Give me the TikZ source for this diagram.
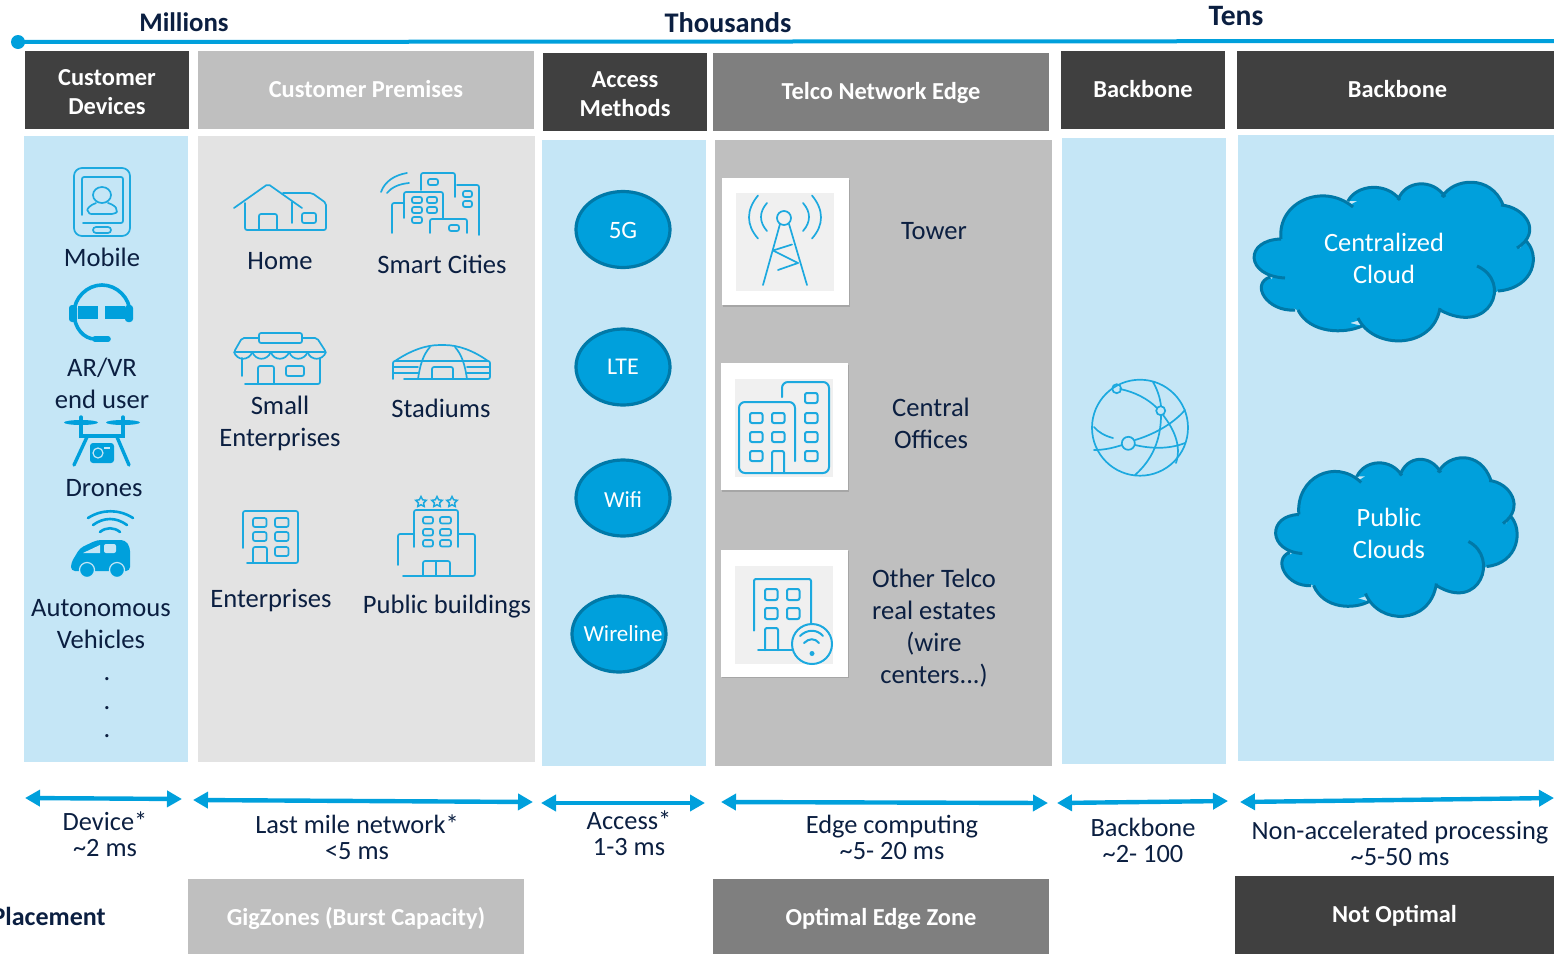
\documentclass[tikz,border=0pt]{standalone}
\usepackage{fontspec}
\setmainfont{Carlito}
\usetikzlibrary{arrows.meta,shapes.geometric}

\definecolor{barblue}{HTML}{00A0DC}
\definecolor{edgeblue}{HTML}{0079A8}
\definecolor{iconblue}{HTML}{1CA9DF}
\definecolor{panelblue}{HTML}{C5E6F6}
\definecolor{panelgrey}{HTML}{E3E3E3}
\definecolor{darkgrey}{HTML}{404040}
\definecolor{midgrey}{HTML}{7F7F7F}
\definecolor{lightgrey}{HTML}{BFBFBF}
\definecolor{inknavy}{HTML}{0B1F41}

\newcommand\midtext[2][3.9pt]{\raisebox{-#1}[0pt][0pt]{\makebox[0pt]{#2}}}

\tikzset{
	hdrbox/.style={rectangle,inner sep=0,text=white,align=center,font=\fontsize{12.2}{14.5}\selectfont\bfseries,minimum width=82pt,minimum height=39pt},
	panel/.style={rectangle,inner sep=0,minimum height=313pt},
	lbl/.style={inner sep=0,text=inknavy,align=center,font=\fontsize{13.3}{16}\selectfont},
	lat/.style={inner sep=0,text=inknavy,align=center,font=\fontsize{13.2}{13}\selectfont},
	scalelbl/.style={inner sep=0,text=inknavy,font=\fontsize{13.4}{15}\selectfont\bfseries},
	tech/.style={ellipse,draw=edgeblue,line width=1.6pt,fill=barblue,inner sep=0,text=white,minimum width=47pt,minimum height=38pt,font=\fontsize{12}{14}\selectfont},
	whitelbl/.style={inner sep=0,text=white,align=center,font=\fontsize{13.2}{16}\selectfont},
	tile/.style={rectangle,inner sep=0,fill=white,minimum width=63.5pt,minimum height=63.5pt},
	tileshade/.style={rectangle,inner sep=0,fill=gray!70,minimum width=63.5pt,minimum height=63.5pt},
	tileback/.style={rectangle,inner sep=0,fill=black!6,minimum width=49pt,minimum height=49pt},
	span/.style={barblue,line width=2.2pt,{Triangle[length=7.5pt,width=8pt]}-{Triangle[length=7.5pt,width=8pt]}},
	ico/.style={iconblue,line width=0.85pt,rounded corners=1pt,line cap=round},
	hotel/.style={star,star points=5,star point ratio=2,draw=iconblue,line width=0.75pt,inner sep=0,minimum size=5.5pt},
	pics/cloudicon/.style={code={
		\fill[barblue] (-138,-4) -- (-114,-23) -- (-72,-62) -- (-45,-57) -- (-18,-72) -- (4,-62) -- (30,-76) -- (48,-65) -- (77,-76) -- (107,-57) -- (130,-32) -- (124,-16) -- (134,-2) -- (103,29) -- (65,52) -- (45,47) -- (3,76) -- (-35,58) -- (-62,66) -- (-98,48) -- (-130,30) -- (-122,15) -- cycle;
		\filldraw[fill=barblue,draw=edgeblue,line width=1.5pt]
			(-110,16) .. controls (-150,14) and (-151,-22) .. (-114,-23)
			(-114,-23) .. controls (-118,-60) and (-72,-80) .. (-42,-55)
			(-47,-61) .. controls (-38,-78) and (-8,-80) .. (5,-62)
			(3,-62) .. controls (10,-82) and (38,-84) .. (50,-65)
			(47,-65) .. controls (58,-84) and (96,-88) .. (108,-57)
			(106,-57) .. controls (130,-55) and (148,-30) .. (122,-14)
			(130,-22) .. controls (146,-8) and (140,26) .. (103,29)
			(82,4) .. controls (118,20) and (95,75) .. (45,48)
			(45,46) .. controls (38,88) and (-22,88) .. (-37,56)
			(-33,64) .. controls (-50,72) and (-85,72) .. (-97,48)
			(-100,48) .. controls (-128,50) and (-145,22) .. (-125,15);
	}}
}

\begin{document}
\begin{tikzpicture}[x=0.5pt,y=-0.5pt]
	\clip (0,0) rectangle (1554,954);

	% scale line on top
	\path (18,42) coordinate (scale_left);
	\path (1554,41) coordinate (scale_right);
	\draw[barblue,line width=2pt] (scale_left) -- (scale_right);
	\fill[barblue] (scale_left) circle (7);
	\path (184,22) node(millions) [scalelbl] {Millions};
	\path (728,23) node(thousands) [scalelbl,font=\fontsize{14.2}{15}\selectfont\bfseries] {Thousands};
	\path (1236,16) node(tens) [scalelbl,font=\fontsize{14.8}{15}\selectfont\bfseries] {Tens};

	% headers
	\path (107,90) node(hdr_devices) [hdrbox,fill=darkgrey] {\rule{0pt}{10pt}Customer\\Devices};
	\path (366,90) node(hdr_premises) [hdrbox,fill=lightgrey,minimum width=168pt] {\midtext{Customer Premises}};
	\path (625,92) node(hdr_access) [hdrbox,fill=darkgrey] {\rule{0pt}{10pt}Access\\Methods};
	\path (881,92) node(hdr_edge) [hdrbox,fill=midgrey,minimum width=168pt] {\midtext{Telco Network Edge}};
	\path (1143,90) node(hdr_backbone) [hdrbox,fill=darkgrey] {\midtext{Backbone}};
	\path (1397.5,90) node(hdr_core) [hdrbox,fill=darkgrey,minimum width=160.5pt] {\midtext{Backbone}};

	% panels
	\path (106,449) node(pan_devices) [panel,fill=panelblue,minimum width=82pt] {};
	\path (366.5,449) node(pan_premises) [panel,fill=panelgrey,minimum width=168.5pt] {};
	\path (624,452.5) node(pan_access) [panel,fill=panelblue,minimum width=82pt] {};
	\path (883.5,452.5) node(pan_edge) [panel,fill=lightgrey,minimum width=168.5pt] {};
	\path (1144,451) node(pan_backbone) [panel,fill=panelblue,minimum width=82pt] {};
	\path (1396,448) node(pan_core) [panel,fill=panelblue,minimum width=158pt] {};

	% devices
	\path (102,257) node(mobile) [lbl] {Mobile};
	\path (102,383) node(arvr) [lbl] {AR/VR\\end user};
	\path (104,488) node(drones) [lbl] {Drones};
	\path (101,624) node(vehicles) [lbl] {Autonomous\\Vehicles};
	\path (107,679) node(dot_a) [lbl] {.};
	\path (107,708) node(dot_b) [lbl] {.};
	\path (107,736) node(dot_c) [lbl] {.};

	% mobile icon
	\draw[ico,rounded corners=4pt] (74,168) rectangle (130,236);
	\draw[ico] (82,215) -- (82,177) -- (123,177) -- (123,223) -- (83,223);
	\draw[ico,rounded corners=1.5pt] (93,227) rectangle (111,233);
	\draw[ico] (96,203) .. controls (90,205) and (87,209) .. (88,212) .. controls (90,214) and (92,214) .. (95,214) -- (110,214) .. controls (115,214) and (117,212) .. (116,210) .. controls (116,207) and (112,204) .. (108,203);
	\draw[ico] (102,195) ellipse (9 and 8);
	% headset icon
	\draw[barblue,line width=1.8pt,line cap=round] (74,313) .. controls (74,298) and (87,285) .. (102,285) .. controls (117,285) and (130,298) .. (130,313);
	\draw[barblue,line width=1.8pt] (74,313) .. controls (74,328) and (84,339) .. (95,339);
	\draw[barblue,line width=2.8pt,line cap=round] (95,339) -- (108,339);
	\fill[barblue,rounded corners=1.5pt] (69,305) rectangle (77,322);
	\fill[barblue,rounded corners=1.5pt] (125,305) rectangle (133,322);
	\fill[barblue] (78,306) rectangle (98,319);
	\fill[barblue] (105,306) rectangle (125,319);
	% drone icon
	\fill[barblue] (81,422.5) ellipse (17 and 2.5);
	\fill[barblue] (123,422.5) ellipse (17 and 2.5);
	\draw[barblue,line width=1.7pt,line cap=round] (81,417) -- (81,436) -- (123,436) -- (123,417);
	\draw[barblue,line width=1.7pt,line cap=round] (87,437) -- (74,465);
	\draw[barblue,line width=1.7pt,line cap=round] (117,437) -- (129,465);
	\fill[barblue,rounded corners=1.5pt] (90,443) rectangle (114,463);
	\draw[panelblue,line width=0.6pt] (98,453) circle (5);
	\draw[panelblue,line width=0.6pt] (104,448) -- (110,448);
	% car icon
	\draw[barblue,line width=1.3pt,line cap=round] (88,518) .. controls (102,509) and (119,509) .. (133,518);
	\draw[barblue,line width=1.3pt,line cap=round] (93,525) .. controls (104,517) and (116,517) .. (127,525);
	\draw[barblue,line width=1.3pt,line cap=round] (100,532) .. controls (106,527) and (114,527) .. (120,532);
	\fill[barblue,rounded corners=2pt] (71,571) -- (71,563) -- (80,548) -- (97,540) -- (125,540) -- (130,547) -- (130,571) -- cycle;
	\fill[panelblue] (83,553) -- (100,553) -- (100,545) -- cycle;
	\fill[panelblue,rounded corners=1pt] (104,544) rectangle (116,553);
	\filldraw[fill=barblue,draw=panelblue,line width=0.6pt] (87,570) circle (7.5);
	\filldraw[fill=barblue,draw=panelblue,line width=0.6pt] (117,570) circle (7.5);

	% premises
	\path (280,261) node(home) [lbl] {Home};
	\path (442,264) node(cities) [lbl] {Smart Cities};
	\path (280,423) node(small_ent) [lbl] {Small\\Enterprises};
	\path (441,408) node(stadiums) [lbl] {Stadiums};
	\path (271,600) node(enterprises) [lbl] {Enterprises};
	\path (447,607) node(public) [lbl] {Public buildings};

	% home icon
	\draw[ico] (234,208) -- (268,184) -- (302,208);
	\draw[ico] (245,203) -- (245,230) -- (326,230) -- (326,203) -- (312,193) -- (283,193);
	\draw[ico] (259,230) -- (259,214) -- (277,214) -- (277,230);
	\draw[ico] (292,202) -- (292,223);
	\draw[ico] (302,213) rectangle (316,223);
	% city icon
	\draw[ico] (381,192) .. controls (385,181) and (395,175) .. (407,173);
	\draw[ico] (387,193) .. controls (391,188) and (398,184) .. (409,183);
	\draw[ico] (421,190) -- (421,173) -- (455,173) -- (455,197);
	\draw[ico] (428,179) rectangle (438,185);
	\draw[ico] (457,185) -- (479,185) -- (479,235);
	\foreach \y in {191,201} \draw[ico] (463,\y) rectangle (472,\y+6);
	\draw[ico] (392,233) -- (392,203) -- (404,203);
	\draw[ico] (404,218) -- (404,192) -- (443,192) -- (443,218);
	\foreach \x/\y in {412/197,427/197,412/207,427/207,412/217} \draw[ico] (\x,\y) rectangle (\x+10,\y+6);
	\draw[ico] (430,233) -- (430,219) -- (467,219) -- (467,233);
	\draw[ico] (449,225) rectangle (459,231);
	% shop icon
	\draw[ico] (259,333) rectangle (302,343);
	\draw[ico] (259,338) -- (242,338) -- (234,352) -- (326,352) -- (317,338) -- (302,338);
	\foreach \x in {234,252.4,270.8,289.2,307.6} \draw[ico] (\x,352) .. controls (\x+3,361) and (\x+15,361) .. (\x+18.4,352);
	\draw[ico] (242,358) -- (242,376);
	\draw[ico] (320,358) -- (320,384) -- (245,384);
	\draw[ico] (258,384) -- (258,366) -- (274,366) -- (274,384);
	\draw[ico] (286,366) rectangle (304,376);
	% stadium icon
	\draw[ico] (395,361) .. controls (410,351) and (425,345) .. (442,345) .. controls (459,345) and (474,351) .. (488,361);
	\draw[ico] (393,379) -- (393,361) -- (490,361) -- (490,379) -- (404,379);
	\draw[ico] (393,367) -- (418,367);
	\draw[ico] (467,367) -- (490,367);
	\draw[ico] (393,373) -- (418,373);
	\draw[ico] (467,373) -- (490,373);
	\draw[ico] (418,379) .. controls (420,365) and (423,355) .. (430,347);
	\draw[ico] (467,379) .. controls (465,365) and (462,355) .. (455,347);
	\draw[ico] (432,379) -- (432,367) -- (453,367) -- (453,379);
	% enterprise icon
	\draw[ico] (243,548) -- (243,511) -- (298,511) -- (298,563) -- (247,563);
	\foreach \x/\y in {253/518,275/518,253/532,275/532,275/547} \draw[ico] (\x,\y) rectangle (\x+13.5,\y+9);
	\draw[ico] (253,563) -- (253,547) -- (267,547) -- (267,563);
	% public building icon
	\foreach \x in {421,437,452} \node[hotel] at (\x,502) {};
	\draw[ico] (414,547) -- (414,510) -- (458,510) -- (458,547);
	\foreach \y in {517,529,540} {
		\draw[ico] (423,\y) rectangle (433,\y+6.5);
		\draw[ico] (440,\y) rectangle (451,\y+6.5);
	}
	\draw[ico] (398,565) -- (398,534) -- (414,534);
	\draw[ico] (458,534) -- (475,534) -- (475,576) -- (403,576);
	\draw[ico] (423,576) -- (423,561) -- (450,561) -- (450,576);
	\draw[ico] (436,561) -- (436,576);

	% access methods
	\path (623,229.5) node(tech_5g) [tech,font=\fontsize{12.5}{14}\selectfont] {\midtext[4.6pt]{5G}};
	\path (623,367) node(tech_lte) [tech] {\midtext{LTE}};
	\path (623,498) node(tech_wifi) [tech,font=\fontsize{11.5}{14}\selectfont] {\midtext[4.6pt]{Wifi}};
	\path (619,634) node(tech_wire) [tech,font=\fontsize{11.5}{14}\selectfont] {\midtext{\hspace{4pt}Wireline}};

	% telco edge
	\path (786,243) node(shade_tower) [tileshade] {};
	\path (785,241.5) node(tile_tower) [tile] {};
	\path (785,242) node(back_tower) [tileback] {};
	\path (785,428) node(shade_office) [tileshade] {};
	\path (784,426.5) node(tile_office) [tile] {};
	\path (783.5,427.5) node(back_office) [tileback] {};
	\path (785,614.5) node(shade_real) [tileshade] {};
	\path (784,613) node(tile_real) [tile] {};
	\path (783.5,614.5) node(back_real) [tileback] {};
	\path (934,231) node(tower) [lbl] {Tower};
	\path (931,423.5) node(offices) [lbl] {Central\\Offices};
	\path (934,628) node(estates) [lbl] {Other Telco\\real estates\\(wire\\centers...)};

	% tower icon
	\draw[ico] (758,195.5) .. controls (746,210) and (746,225) .. (758,238.5);
	\draw[ico] (767,203) .. controls (759,212) and (759,222) .. (767,231);
	\draw[ico] (812,195.5) .. controls (824,210) and (824,225) .. (812,238.5);
	\draw[ico] (803,203) .. controls (811,212) and (811,222) .. (803,231);
	\draw[ico] (784,218) circle (7);
	\draw[ico] (780,224) -- (763,285);
	\draw[ico] (789,224) -- (807,285);
	\draw[ico] (773,250.5) -- (792,244.5);
	\draw[ico] (773,250.5) -- (798,263);
	\draw[ico] (778,270) -- (798,263);
	% office icon
	\draw[ico,line width=1pt,rounded corners=3pt] (782,397) -- (782,382) -- (829,382) -- (829,473) -- (739,473) -- (739,402) -- (795,402) -- (795,461);
	\foreach \x/\y in {750/413,772/413,750/432,772/432,750/451,805/393,805/413,805/432,805/451} \draw[ico,line width=1pt] (\x,\y) rectangle (\x+12.5,\y+10);
	\draw[ico,line width=1pt] (772,473) -- (772,451) -- (784,451) -- (784,473);
	% wired office icon
	\draw[ico,line width=1pt] (754,630.5) -- (754,579) -- (811,579) -- (811,623);
	\foreach \x/\y in {765/589,787/589,765/608,787/608} \draw[ico,line width=1pt] (\x,\y) rectangle (\x+12.5,\y+11);
	\draw[ico,line width=1pt] (765,650) -- (765,628) -- (778,628) -- (778,650);
	\draw[ico,line width=1pt] (758,649.5) -- (793,649.5);
	\draw[ico,line width=1pt] (812,644) circle (20);
	\draw[ico,line width=1pt] (800,636) .. controls (807,629) and (817,629) .. (823,636);
	\draw[ico,line width=1pt] (804,643) .. controls (809,638) and (815,638) .. (819,643);
	\fill[iconblue] (812,653.5) circle (2.5);

	% globe icon
	\draw[ico] (1140,427.7) circle (48);
	\draw[ico] (1120,389) .. controls (1135,392) and (1148,399) .. (1157,408);
	\draw[ico] (1163,415) .. controls (1173,428) and (1182,445) .. (1176,463);
	\draw[ico] (1153,382) .. controls (1157,389) and (1160,397) .. (1161,406);
	\draw[ico] (1161,415) .. controls (1161,440) and (1152,460) .. (1135,475);
	\draw[ico] (1094,427) .. controls (1098,432) and (1105,436) .. (1113,438);
	\draw[ico] (1094,450) .. controls (1104,450) and (1113,448) .. (1122,445);
	\draw[ico] (1135,440) .. controls (1152,435) and (1172,425) .. (1185,410);
	\draw[ico] (1135,445) .. controls (1152,449) and (1170,449) .. (1185,443);
	\draw[ico] (1116.7,388.7) circle (4.5);
	\draw[ico] (1160.7,410.7) circle (4.5);
	\draw[ico] (1128.3,443.3) circle (6.5);

	% clouds
	\pic at (1395,262) {cloudicon};
	\pic[xscale=0.865] at (1397.5,537.5) {cloudicon};
	\path (1384,258) node(central_cloud) [whitelbl] {Centralized\\Cloud};
	\path (1389,533) node(public_cloud) [whitelbl] {Public\\Clouds};

	% latency spans
	\path (25,798) coordinate (dev_l);
	\path (182,799) coordinate (dev_r);
	\path (193,800) coordinate (mile_l);
	\path (533,802) coordinate (mile_r);
	\path (541,803) coordinate (acc_l);
	\path (705,803) coordinate (acc_r);
	\path (721,802) coordinate (edge_l);
	\path (1048,803) coordinate (edge_r);
	\path (1057,803) coordinate (back_l);
	\path (1228,801) coordinate (back_r);
	\path (1240,802) coordinate (core_l);
	\path (1554,798) coordinate (core_r);
	\draw[span] (dev_l) -- (dev_r);
	\draw[span] (mile_l) -- (mile_r);
	\draw[span] (acc_l) -- (acc_r);
	\draw[span] (edge_l) -- (edge_r);
	\draw[span] (back_l) -- (back_r);
	\draw[span] (core_l) -- (core_r);
	\path (105,834) node(lat_device) [lat] {Device*\\\textasciitilde 2 ms};
	\path (357,837) node(lat_mile) [lat] {Last mile network*\\<5 ms};
	\path (629,833) node(lat_access) [lat] {Access*\\1-3 ms};
	\path (892,837) node(lat_edge) [lat] {Edge computing\\\textasciitilde 5- 20 ms};
	\path (1143,840) node(lat_back) [lat] {Backbone\\\textasciitilde 2- 100};
	\path (1400,843) node(lat_core) [lat] {Non-accelerated processing\\\textasciitilde 5-50 ms};

	% placement row
	\path (106,916) node(placement) [anchor=east,inner sep=0,text=inknavy,font=\fontsize{13}{15}\selectfont\bfseries] {Placement};
	\path (356,916.5) node(gigzones) [hdrbox,fill=lightgrey,minimum width=168pt,minimum height=37.5pt] {\midtext[4.5pt]{GigZones (Burst Capacity)}};
	\path (881,916.5) node(optimal) [hdrbox,fill=midgrey,minimum width=168pt,minimum height=37.5pt] {\midtext[4.5pt]{Optimal Edge Zone}};
	\path (1394.5,915) node(notoptimal) [hdrbox,fill=darkgrey,minimum width=159.5pt] {\midtext{Not Optimal}};
\end{tikzpicture}
\end{document}
